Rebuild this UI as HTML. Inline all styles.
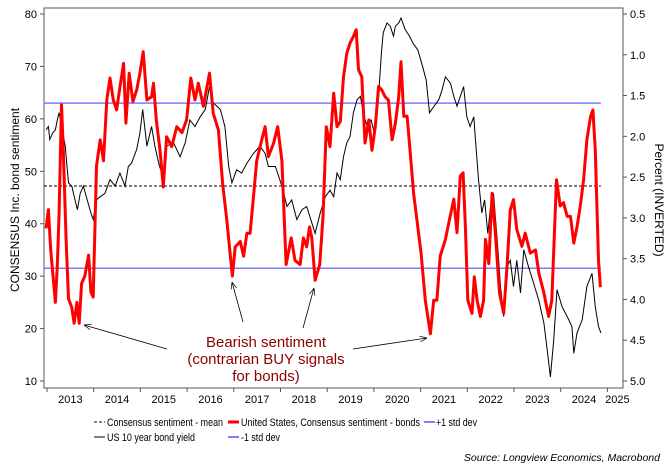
<!DOCTYPE html>
<html><head><meta charset="utf-8"><style>
body{margin:0;background:#fff;}
svg{display:block;font-family:"Liberation Sans",sans-serif;}
</style></head><body>
<svg id="chart" width="668" height="469" viewBox="0 0 668 469" xmlns="http://www.w3.org/2000/svg">
<defs><marker id="ah" viewBox="0 0 10 10" refX="10" refY="5" markerWidth="9" markerHeight="9" orient="auto"><path d="M0,1 L10,5 L0,9" fill="none" stroke="#000" stroke-width="1"/></marker></defs>
<rect x="44" y="8" width="579" height="380" fill="none" stroke="#555" stroke-width="1"/>
<g id="axes"></g>
<g id="series"></g>
<text transform="translate(19,200) rotate(-90)" text-anchor="middle" font-size="12">CONSENSUS Inc. bond sentiment</text>
<text transform="translate(655,200) rotate(90)" text-anchor="middle" font-size="12">Percent (INVERTED)</text>
<g>
<text x="266" y="347" text-anchor="middle" font-size="15" fill="#8b0000">Bearish sentiment</text>
<text x="266" y="364" text-anchor="middle" font-size="15" fill="#8b0000">(contrarian BUY signals</text>
<text x="266" y="381" text-anchor="middle" font-size="15" fill="#8b0000">for bonds)</text>
<line x1="167" y1="349" x2="84" y2="325" stroke="#000" stroke-width="0.8" marker-end="url(#ah)"/>
<line x1="243" y1="322" x2="232" y2="282" stroke="#000" stroke-width="0.8" marker-end="url(#ah)"/>
<line x1="303" y1="328" x2="314" y2="288" stroke="#000" stroke-width="0.8" marker-end="url(#ah)"/>
<line x1="353" y1="349" x2="427" y2="338" stroke="#000" stroke-width="0.8" marker-end="url(#ah)"/>
</g>
<g font-size="11">
<g><line x1="94" y1="422" x2="105" y2="422" stroke="#000" stroke-dasharray="3,2"/><text x="107" y="426" textLength="116" lengthAdjust="spacingAndGlyphs">Consensus sentiment - mean</text></g>
<g><line x1="228" y1="422" x2="239" y2="422" stroke="#f00" stroke-width="3"/><text x="241" y="426" textLength="179" lengthAdjust="spacingAndGlyphs">United States, Consensus sentiment - bonds</text></g>
<g><line x1="424" y1="422" x2="435" y2="422" stroke="#00f"/><text x="436" y="426" textLength="41" lengthAdjust="spacingAndGlyphs">+1 std dev</text></g>
<g><line x1="94" y1="437" x2="105" y2="437" stroke="#000"/><text x="107" y="441" textLength="88" lengthAdjust="spacingAndGlyphs">US 10 year bond yield</text></g>
<g><line x1="228" y1="437" x2="239" y2="437" stroke="#00f"/><text x="241" y="441" textLength="39" lengthAdjust="spacingAndGlyphs">-1 std dev</text></g>
</g>
<text x="660" y="461" text-anchor="end" font-size="10.5" font-style="italic">Source: Longview Economics, Macrobond</text>
</svg>
<script>
const leftTicks=[10,20,30,40,50,60,70,80];
const rightTicks=[0.5,1.0,1.5,2.0,2.5,3.0,3.5,4.0,4.5,5.0];
const yearTicks=[2013,2014,2015,2016,2017,2018,2019,2020,2021,2022,2023,2024,2025];
const meanValue=[47.2];
const plusStd=[63.0];
const minusStd=[31.5];
const sentYears=[2012.98,2013.03,2013.08,2013.14,2013.18,2013.22,2013.26,2013.31,2013.35,2013.41,2013.46,2013.53,2013.58,2013.64,2013.69,2013.74,2013.81,2013.89,2013.94,2013.99,2014.06,2014.14,2014.21,2014.28,2014.35,2014.42,2014.49,2014.56,2014.64,2014.69,2014.76,2014.84,2014.92,2014.99,2015.06,2015.14,2015.24,2015.28,2015.34,2015.42,2015.49,2015.56,2015.67,2015.78,2015.89,2015.99,2016.08,2016.17,2016.24,2016.35,2016.48,2016.56,2016.67,2016.76,2016.85,2016.92,2016.97,2017.03,2017.14,2017.21,2017.28,2017.35,2017.42,2017.49,2017.6,2017.67,2017.74,2017.85,2017.94,2018.03,2018.12,2018.23,2018.31,2018.42,2018.49,2018.56,2018.62,2018.67,2018.74,2018.84,2018.91,2018.98,2019.06,2019.14,2019.21,2019.28,2019.35,2019.42,2019.49,2019.56,2019.62,2019.67,2019.74,2019.81,2019.89,2019.96,2020.03,2020.10,2020.17,2020.24,2020.31,2020.39,2020.46,2020.53,2020.58,2020.64,2020.71,2020.78,2020.85,2020.94,2021.01,2021.10,2021.21,2021.28,2021.35,2021.42,2021.53,2021.62,2021.71,2021.78,2021.85,2021.91,2021.96,2022.01,2022.10,2022.15,2022.21,2022.28,2022.35,2022.39,2022.46,2022.53,2022.60,2022.69,2022.78,2022.85,2022.92,2022.99,2023.06,2023.17,2023.24,2023.35,2023.46,2023.53,2023.64,2023.74,2023.81,2023.91,2023.99,2024.06,2024.14,2024.21,2024.28,2024.35,2024.42,2024.49,2024.56,2024.64,2024.69,2024.74,2024.81,2024.85];
const sentValues=[39.1,42.7,35,29,25,32,42,62.7,54,37,25.7,24,21,25,21,28.6,30,34,27,26,51,56,52,63.6,67.8,63.6,61.7,66,70.6,59.2,68.7,63.3,65.5,68.7,72.8,63.6,64.2,66.8,59.8,54,47,56.6,54.7,58.5,57.4,59.8,67.8,63.6,66.8,62.4,68.7,61,57.9,47.7,40.7,34.3,30,35.6,36.6,33.8,38.2,38.2,45,52,56,58.5,52.8,55.3,58.5,52,32.2,37.3,33,32.2,37.3,35.6,39.4,37.3,29.2,32.2,41.3,58.5,54.7,64.9,58.5,59.5,68,72.5,74.5,75.7,77,69.4,68,55.4,59.8,54,58.5,66.2,65.5,64.2,63.6,56,59.2,64.2,70.9,60.5,60.5,53.4,45.8,39.4,34.3,25.4,19,25.4,25.4,33.8,37,40.9,44.7,38.3,49.1,49.7,39.4,25.4,22.9,29.9,25.4,22.3,25.4,37,32.4,45.8,38.3,26.8,22.9,31.8,42.6,44.6,38.9,35.7,38.2,34.4,35,30.6,26.8,22.3,25.4,48.4,43.4,44,41.4,41.4,36.3,39.4,43.4,48.4,56,60.5,61.7,54,33,27.9];
const yieldYears=[2012.98,2013.03,2013.06,2013.12,2013.18,2013.22,2013.26,2013.31,2013.39,2013.46,2013.53,2013.6,2013.65,2013.71,2013.78,2013.86,2013.94,2013.99,2014.06,2014.14,2014.24,2014.35,2014.46,2014.56,2014.67,2014.74,2014.81,2014.92,2014.99,2015.05,2015.14,2015.24,2015.31,2015.41,2015.49,2015.56,2015.71,2015.85,2015.96,2016.06,2016.17,2016.28,2016.39,2016.48,2016.56,2016.71,2016.81,2016.89,2016.96,2017.06,2017.17,2017.28,2017.42,2017.56,2017.67,2017.74,2017.89,2018.03,2018.14,2018.24,2018.35,2018.46,2018.56,2018.67,2018.74,2018.85,2018.96,2019.06,2019.14,2019.21,2019.28,2019.35,2019.42,2019.49,2019.56,2019.64,2019.71,2019.79,2019.86,2019.94,2020.01,2020.09,2020.16,2020.20,2020.28,2020.35,2020.42,2020.46,2020.53,2020.58,2020.67,2020.76,2020.84,2020.94,2021.04,2021.12,2021.19,2021.29,2021.39,2021.46,2021.53,2021.64,2021.71,2021.78,2021.85,2021.92,2021.99,2022.06,2022.14,2022.17,2022.24,2022.31,2022.37,2022.44,2022.49,2022.56,2022.64,2022.71,2022.78,2022.85,2022.92,2022.99,2023.06,2023.14,2023.21,2023.31,2023.42,2023.53,2023.64,2023.71,2023.78,2023.85,2023.92,2024.03,2024.14,2024.24,2024.28,2024.35,2024.46,2024.56,2024.67,2024.74,2024.81,2024.86];
const yieldValues=[1.92,1.88,2.04,1.96,1.92,1.80,1.71,1.86,2.12,2.57,2.61,2.78,2.90,2.70,2.61,2.78,2.94,3.02,2.78,2.74,2.70,2.53,2.61,2.45,2.61,2.37,2.33,2.16,1.96,1.67,2.12,1.88,2.12,2.37,2.49,2.12,2.08,2.25,2.08,1.80,1.88,1.76,1.67,1.39,1.59,1.67,1.88,2.37,2.57,2.41,2.45,2.33,2.21,2.12,2.21,2.37,2.37,2.61,2.86,2.78,3.02,2.90,2.86,3.06,3.19,2.94,2.74,2.66,2.74,2.45,2.53,2.25,2.08,2.00,1.71,1.55,1.51,1.76,1.88,1.80,1.96,1.59,0.98,0.73,0.61,0.65,0.77,0.65,0.61,0.55,0.69,0.77,0.86,0.94,1.14,1.31,1.71,1.63,1.55,1.43,1.27,1.35,1.51,1.63,1.51,1.39,1.76,1.88,1.76,2.00,2.53,2.94,2.78,3.19,2.90,2.70,3.27,3.84,4.21,3.60,3.52,3.84,3.52,3.92,3.39,3.60,3.80,4.01,4.29,4.62,4.95,4.50,3.88,4.09,4.21,4.33,4.66,4.41,4.25,3.84,3.68,4.09,4.33,4.41];
const X0=47,XW=46.7,YTOP=14,YBOT=381;
function xS(yr){return X0+(yr-2013)*XW;}
function yL(v){return YTOP+(80-v)/70*(YBOT-YTOP);}
function yR(p){return YTOP+(p-0.5)/4.5*(YBOT-YTOP);}
const NS="http://www.w3.org/2000/svg";
function mk(tag,attrs,parent){const e=document.createElementNS(NS,tag);for(const k in attrs)e.setAttribute(k,attrs[k]);parent.appendChild(e);return e;}
const axes=document.getElementById('axes');
const series=document.getElementById('series');
leftTicks.forEach(v=>{
  const t=mk('line',{x1:40,x2:44,y1:yL(v),y2:yL(v),stroke:'#555'},axes);
  
  
  const l=mk('text',{x:37,y:yL(v)+4,'text-anchor':'end','font-size':11},axes);
  l.textContent=v;
  
  
});
rightTicks.forEach(v=>{
  const t=mk('line',{x1:623,x2:627,y1:yR(v),y2:yR(v),stroke:'#555'},axes);
  
  
  const l=mk('text',{x:630,y:yR(v)+4,'font-size':11},axes);
  l.textContent=v.toFixed(1);
  
  
});
yearTicks.forEach((yr,i)=>{
  const t=mk('line',{x1:xS(yr),x2:xS(yr),y1:388,y2:392,stroke:'#555'},axes);
  
  
  const last=i===yearTicks.length-1;
  const l=mk('text',{x:last?xS(yr)+10:xS(yr)+XW/2,y:403,'text-anchor':'middle','font-size':11},axes);
  l.textContent=yr;
  
  
});
function hline(v,color,dash,name){
  const e=mk('line',{x1:44,x2:xS(2024.86),y1:yL(v),y2:yL(v),stroke:color,'stroke-width':dash?1:1.5},series);
  if(dash)e.setAttribute('stroke-dasharray','3,2');
  
  
}
hline(plusStd[0],'#7b7bff',false,'plus-std-line');
hline(minusStd[0],'#7b7bff',false,'minus-std-line');
hline(meanValue[0],'#000',true,'mean-line');
const yp=mk('polyline',{points:yieldYears.map((y,i)=>xS(y).toFixed(1)+','+yR(yieldValues[i]).toFixed(1)).join(' '),fill:'none',stroke:'#000','stroke-width':1},series);


const sp=mk('polyline',{points:sentYears.map((y,i)=>xS(y).toFixed(1)+','+yL(sentValues[i]).toFixed(1)).join(' '),fill:'none',stroke:'#f00','stroke-width':3,'stroke-linejoin':'round'},series);


</script>
</body></html>
